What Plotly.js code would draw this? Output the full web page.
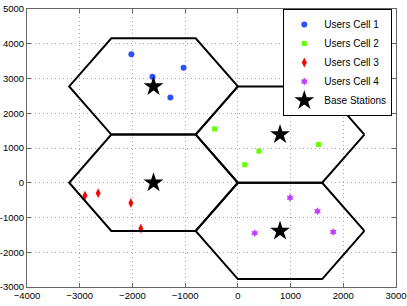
<!DOCTYPE html>
<html>
<head>
<meta charset="utf-8">
<script src="https://cdn.plot.ly/plotly-3.0.1.min.js"></script>
<style>html,body{margin:0;padding:0;background:#fff;}#chart{width:407px;height:306px;}</style>
</head>
<body>
<div id="chart"></div>
<script>
// Users per cell
var cell1X = [-2020, -1620, -1030, -1280];
var cell1Y = [3700, 3050, 3310, 2450];
var cell2X = [-440, 1530, 400, 130];
var cell2Y = [1550, 1100, 910, 520];
var cell3X = [-2900, -2650, -2030, -1840];
var cell3Y = [-370, -300, -580, -1320];
var cell4X = [990, 1510, 1810, 320];
var cell4Y = [-430, -820, -1420, -1450];
// Base stations (cell centres)
var bsX = [-1600, 800, -1600, 800];
var bsY = [2771, 1386, 0, -1386];
var cellRadius = 1600;
// Tick labels
var xTicks = [-4000, -3000, -2000, -1000, 0, 1000, 2000, 3000];
var xTickText = ["\u22124000", "\u22123000", "\u22122000", "\u22121000", "0", "1000", "2000", "3000"];
var yTicks = [-3000, -2000, -1000, 0, 1000, 2000, 3000, 4000, 5000];
var yTickText = ["-3000", "-2000", "-1000", "0", "1000", "2000", "3000", "4000", "5000"];

var traces = [
  {x: cell1X, y: cell1Y, mode: 'markers', type: 'scatter', name: 'Users Cell 1',
   marker: {symbol: 'circle', size: 6, color: '#2f52ff'}},
  {x: cell2X, y: cell2Y, mode: 'markers', type: 'scatter', name: 'Users Cell 2',
   marker: {symbol: 'square', size: 5, color: '#66ff00'}},
  {x: cell3X, y: cell3Y, mode: 'markers', type: 'scatter', name: 'Users Cell 3',
   marker: {symbol: 'diamond-tall', size: 7, color: '#ff0000'}},
  {x: cell4X, y: cell4Y, mode: 'markers', type: 'scatter', name: 'Users Cell 4',
   marker: {symbol: 'hexagram', size: 6, color: '#c040ff'}}
];

// Hexagonal cell borders built from the centres
for (var i = 0; i < bsX.length; i++) {
  var hx = [], hy = [];
  for (var k = 0; k <= 6; k++) {
    var a = Math.PI / 3 * k;
    hx.push(bsX[i] + cellRadius * Math.cos(a));
    hy.push(bsY[i] + cellRadius * Math.sin(a));
  }
  traces.push({x: hx, y: hy, mode: 'lines', type: 'scatter', showlegend: false,
    hoverinfo: 'skip', line: {color: '#000', width: 2}});
}

traces.push({x: bsX, y: bsY, mode: 'markers', type: 'scatter', name: 'Base Stations',
  marker: {symbol: 'star', size: 15, color: '#000'}});

var axisCommon = {
  showline: true, mirror: 'ticks', linecolor: '#666', linewidth: 1,
  ticks: 'inside', ticklen: 4, tickcolor: '#666',
  showgrid: true, gridcolor: '#aaaaaa', griddash: '1px,3px', gridwidth: 1,
  zeroline: false, tickfont: {size: 9.5, color: '#000'},
  ticklabeloverflow: 'allow'
};

var layout = {
  width: 407, height: 306,
  margin: {l: 27, r: 11, t: 9, b: 19, pad: 0},
  paper_bgcolor: '#fff', plot_bgcolor: '#fff',
  font: {family: 'Liberation Sans, Arial, sans-serif', size: 10, color: '#000'},
  xaxis: Object.assign({}, axisCommon, {range: [-4000, 3000], tickmode: 'array',
    tickvals: xTicks, ticktext: xTickText}),
  yaxis: Object.assign({}, axisCommon, {range: [-3000, 5000], tickmode: 'array',
    tickvals: yTicks, ticktext: yTickText}),
  legend: {x: 0.99, y: 1, xanchor: 'right', yanchor: 'top', bgcolor: '#fff',
    bordercolor: '#000', borderwidth: 1, font: {size: 10},
    itemsizing: 'trace', tracegroupgap: 0},
  showlegend: true
};

Plotly.newPlot('chart', traces, layout, {displayModeBar: false, staticPlot: true});
</script>
</body>
</html>
